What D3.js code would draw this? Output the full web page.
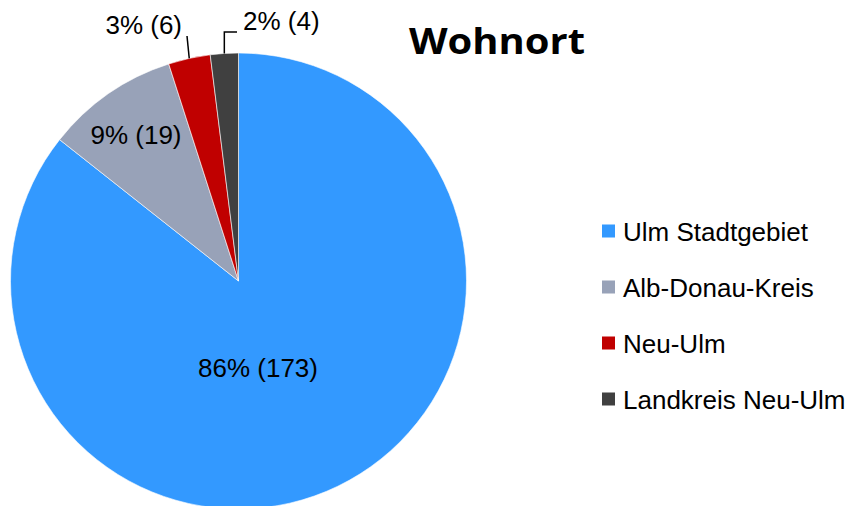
<!DOCTYPE html>
<html><head><meta charset="utf-8">
<script src="https://cdn.jsdelivr.net/npm/d3@7"></script>
<style>body{margin:0;background:#fff;} svg{display:block;}</style>
</head><body>
<svg id="c" width="853" height="506"></svg>
<script>
const categories = ["Ulm Stadtgebiet", "Alb-Donau-Kreis", "Neu-Ulm", "Landkreis Neu-Ulm"];
const counts = [173, 19, 6, 4];
const percentLabels = ["86%", "9%", "3%", "2%"];
const colors = ["#3399FF", "#98A2B8", "#C00000", "#404040"];
const title = "Wohnort";

const svg = d3.select("#c");
const cx = 238.5, cy = 281, R = 228;
const data = categories.map((c, i) => ({cat: c, value: counts[i], pct: percentLabels[i], color: colors[i]}));
const pie = d3.pie().value(d => d.value).sort(null);
const arcs = pie(data);
const arc = d3.arc().innerRadius(0).outerRadius(R);
const g = svg.append("g").attr("transform", `translate(${cx},${cy})`);
g.selectAll("path").data(arcs).join("path")
  .attr("d", arc).attr("fill", d => d.data.color)
  .attr("stroke", "#fff").attr("stroke-width", 0.6);

const font = "Liberation Sans, Arial, sans-serif";
const fs = 26;
const inner = [
  {i: 0, x: 258 - cx, y: 368 - cy},
  {i: 1, x: 136 - cx, y: 135 - cy}
];
g.selectAll("text.in").data(inner).join("text").attr("class", "in")
  .attr("x", d => d.x).attr("y", d => d.y)
  .attr("text-anchor", "middle").attr("dominant-baseline", "central")
  .attr("font-family", font).attr("font-size", fs).attr("fill", "#000")
  .text(d => `${data[d.i].pct} (${data[d.i].value})`);

function edge(a, frac) {
  const ang = a.startAngle + (a.endAngle - a.startAngle) * frac;
  return [R * Math.sin(ang), -R * Math.cos(ang)];
}
const a2 = arcs[2], a3 = arcs[3];
const p2 = edge(a2, 0.5);
g.append("path").attr("d", `M${p2[0]},${p2[1]} L${187 - cx},${36 - cy}`)
  .attr("stroke", "#000").attr("stroke-width", 1.5).attr("fill", "none");
g.append("text").attr("x", 182 - cx).attr("y", 25 - cy)
  .attr("text-anchor", "end").attr("dominant-baseline", "central")
  .attr("font-family", font).attr("font-size", fs).text(`${data[2].pct} (${data[2].value})`);
const p3 = edge(a3, 0.5);
g.append("path").attr("d", `M${p3[0]},${p3[1]} L${p3[0]},${32 - cy} L${237 - cx},${32 - cy}`)
  .attr("stroke", "#000").attr("stroke-width", 1.5).attr("fill", "none");
g.append("text").attr("x", 243 - cx).attr("y", 21 - cy)
  .attr("text-anchor", "start").attr("dominant-baseline", "central")
  .attr("font-family", font).attr("font-size", fs).text(`${data[3].pct} (${data[3].value})`);

// title
svg.append("text").attr("x", 497).attr("y", 40).attr("text-anchor", "middle")
  .attr("dominant-baseline", "central")
  .attr("font-family", "Open Sans, sans-serif").attr("font-weight", "bold")
  .attr("font-size", 36).attr("textLength", 176).attr("lengthAdjust", "spacingAndGlyphs")
  .text(title);

// legend
const ly = d3.scalePoint().domain(categories).range([231, 399]);
const items = svg.append("g").selectAll("g").data(data).join("g")
  .attr("transform", d => `translate(602,${ly(d.cat)})`);
items.append("rect").attr("x", 0).attr("y", -6.5).attr("width", 13).attr("height", 13)
  .attr("fill", d => d.color);
items.append("text").attr("x", 21).attr("y", 1).attr("dominant-baseline", "central")
  .attr("font-family", font).attr("font-size", fs).text(d => d.cat);
</script>
</body></html>
